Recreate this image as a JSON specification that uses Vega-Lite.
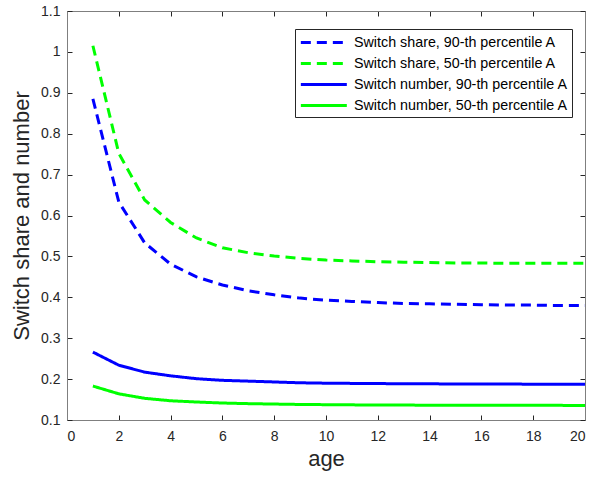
{
  "$schema": "https://vega.github.io/schema/vega-lite/v6.json",
  "autosize": "none",
  "width": 518,
  "height": 409,
  "padding": {"left": 67, "top": 11, "right": 9, "bottom": 58},
  "background": "white",
  "config": {
    "view": {"stroke": "#7f7f7f", "strokeWidth": 1},
    "font": "Liberation Sans",
    "axis": {
      "grid": false,
      "domainColor": "#7f7f7f",
      "tickColor": "#262626",
      "tickWidth": 1,
      "tickSize": -5,
      "labelFont": "Liberation Sans",
      "labelFontSize": 14,
      "labelColor": "#262626",
      "titleFont": "Liberation Sans",
      "titleFontSize": 22,
      "titleFontWeight": "normal",
      "titleColor": "#262626"
    },
    "legend": {
      "title": null,
      "orient": "none",
      "legendX": 228,
      "legendY": 18,
      "symbolType": "M-1,0L5,0",
      "symbolSize": 235,
      "symbolStrokeWidth": 3,
      "labelFont": "Liberation Sans",
      "labelFontSize": 14.3,
      "labelColor": "#000000",
      "labelOffset": 36,
      "padding": 4,
      "rowPadding": 4,
      "strokeColor": "#262626",
      "fillColor": "white",
      "labelLimit": 400
    }
  },
  "data": {"values": [
    {"age": 1, "value": 0.885, "series": "Switch share, 90-th percentile A"},
    {"age": 2, "value": 0.633, "series": "Switch share, 90-th percentile A"},
    {"age": 3, "value": 0.533, "series": "Switch share, 90-th percentile A"},
    {"age": 4, "value": 0.481, "series": "Switch share, 90-th percentile A"},
    {"age": 5, "value": 0.450, "series": "Switch share, 90-th percentile A"},
    {"age": 6, "value": 0.430, "series": "Switch share, 90-th percentile A"},
    {"age": 7, "value": 0.416, "series": "Switch share, 90-th percentile A"},
    {"age": 8, "value": 0.406, "series": "Switch share, 90-th percentile A"},
    {"age": 9, "value": 0.398, "series": "Switch share, 90-th percentile A"},
    {"age": 10, "value": 0.393, "series": "Switch share, 90-th percentile A"},
    {"age": 11, "value": 0.390, "series": "Switch share, 90-th percentile A"},
    {"age": 12, "value": 0.387, "series": "Switch share, 90-th percentile A"},
    {"age": 13, "value": 0.385, "series": "Switch share, 90-th percentile A"},
    {"age": 14, "value": 0.384, "series": "Switch share, 90-th percentile A"},
    {"age": 15, "value": 0.383, "series": "Switch share, 90-th percentile A"},
    {"age": 16, "value": 0.382, "series": "Switch share, 90-th percentile A"},
    {"age": 17, "value": 0.381, "series": "Switch share, 90-th percentile A"},
    {"age": 18, "value": 0.381, "series": "Switch share, 90-th percentile A"},
    {"age": 19, "value": 0.380, "series": "Switch share, 90-th percentile A"},
    {"age": 20, "value": 0.380, "series": "Switch share, 90-th percentile A"},
    {"age": 1, "value": 1.015, "series": "Switch share, 50-th percentile A"},
    {"age": 2, "value": 0.752, "series": "Switch share, 50-th percentile A"},
    {"age": 3, "value": 0.638, "series": "Switch share, 50-th percentile A"},
    {"age": 4, "value": 0.583, "series": "Switch share, 50-th percentile A"},
    {"age": 5, "value": 0.545, "series": "Switch share, 50-th percentile A"},
    {"age": 6, "value": 0.521, "series": "Switch share, 50-th percentile A"},
    {"age": 7, "value": 0.509, "series": "Switch share, 50-th percentile A"},
    {"age": 8, "value": 0.501, "series": "Switch share, 50-th percentile A"},
    {"age": 9, "value": 0.495, "series": "Switch share, 50-th percentile A"},
    {"age": 10, "value": 0.491, "series": "Switch share, 50-th percentile A"},
    {"age": 11, "value": 0.489, "series": "Switch share, 50-th percentile A"},
    {"age": 12, "value": 0.487, "series": "Switch share, 50-th percentile A"},
    {"age": 13, "value": 0.486, "series": "Switch share, 50-th percentile A"},
    {"age": 14, "value": 0.485, "series": "Switch share, 50-th percentile A"},
    {"age": 15, "value": 0.484, "series": "Switch share, 50-th percentile A"},
    {"age": 16, "value": 0.484, "series": "Switch share, 50-th percentile A"},
    {"age": 17, "value": 0.483, "series": "Switch share, 50-th percentile A"},
    {"age": 18, "value": 0.483, "series": "Switch share, 50-th percentile A"},
    {"age": 19, "value": 0.483, "series": "Switch share, 50-th percentile A"},
    {"age": 20, "value": 0.483, "series": "Switch share, 50-th percentile A"},
    {"age": 1, "value": 0.266, "series": "Switch number, 90-th percentile A"},
    {"age": 2, "value": 0.234, "series": "Switch number, 90-th percentile A"},
    {"age": 3, "value": 0.217, "series": "Switch number, 90-th percentile A"},
    {"age": 4, "value": 0.208, "series": "Switch number, 90-th percentile A"},
    {"age": 5, "value": 0.201, "series": "Switch number, 90-th percentile A"},
    {"age": 6, "value": 0.197, "series": "Switch number, 90-th percentile A"},
    {"age": 7, "value": 0.195, "series": "Switch number, 90-th percentile A"},
    {"age": 8, "value": 0.193, "series": "Switch number, 90-th percentile A"},
    {"age": 9, "value": 0.191, "series": "Switch number, 90-th percentile A"},
    {"age": 10, "value": 0.190, "series": "Switch number, 90-th percentile A"},
    {"age": 11, "value": 0.1895, "series": "Switch number, 90-th percentile A"},
    {"age": 12, "value": 0.189, "series": "Switch number, 90-th percentile A"},
    {"age": 13, "value": 0.1888, "series": "Switch number, 90-th percentile A"},
    {"age": 14, "value": 0.1885, "series": "Switch number, 90-th percentile A"},
    {"age": 15, "value": 0.188, "series": "Switch number, 90-th percentile A"},
    {"age": 16, "value": 0.188, "series": "Switch number, 90-th percentile A"},
    {"age": 17, "value": 0.188, "series": "Switch number, 90-th percentile A"},
    {"age": 18, "value": 0.1875, "series": "Switch number, 90-th percentile A"},
    {"age": 19, "value": 0.1875, "series": "Switch number, 90-th percentile A"},
    {"age": 20, "value": 0.1875, "series": "Switch number, 90-th percentile A"},
    {"age": 1, "value": 0.183, "series": "Switch number, 50-th percentile A"},
    {"age": 2, "value": 0.164, "series": "Switch number, 50-th percentile A"},
    {"age": 3, "value": 0.153, "series": "Switch number, 50-th percentile A"},
    {"age": 4, "value": 0.147, "series": "Switch number, 50-th percentile A"},
    {"age": 5, "value": 0.144, "series": "Switch number, 50-th percentile A"},
    {"age": 6, "value": 0.1415, "series": "Switch number, 50-th percentile A"},
    {"age": 7, "value": 0.140, "series": "Switch number, 50-th percentile A"},
    {"age": 8, "value": 0.139, "series": "Switch number, 50-th percentile A"},
    {"age": 9, "value": 0.138, "series": "Switch number, 50-th percentile A"},
    {"age": 10, "value": 0.1375, "series": "Switch number, 50-th percentile A"},
    {"age": 11, "value": 0.137, "series": "Switch number, 50-th percentile A"},
    {"age": 12, "value": 0.1368, "series": "Switch number, 50-th percentile A"},
    {"age": 13, "value": 0.1365, "series": "Switch number, 50-th percentile A"},
    {"age": 14, "value": 0.1362, "series": "Switch number, 50-th percentile A"},
    {"age": 15, "value": 0.136, "series": "Switch number, 50-th percentile A"},
    {"age": 16, "value": 0.136, "series": "Switch number, 50-th percentile A"},
    {"age": 17, "value": 0.136, "series": "Switch number, 50-th percentile A"},
    {"age": 18, "value": 0.1358, "series": "Switch number, 50-th percentile A"},
    {"age": 19, "value": 0.1358, "series": "Switch number, 50-th percentile A"},
    {"age": 20, "value": 0.1355, "series": "Switch number, 50-th percentile A"}
  ]},
  "layer": [
    {
      "mark": {"type": "line", "strokeWidth": 3},
      "encoding": {
        "x": {"field": "age", "type": "quantitative",
              "scale": {"domain": [0, 20], "nice": false, "zero": false},
              "axis": {"title": "age", "values": [0,2,4,6,8,10,12,14,16,18,20], "labelPadding": 14, "titlePadding": 5}},
        "y": {"field": "value", "type": "quantitative",
              "scale": {"domain": [0.1, 1.1], "nice": false, "zero": false},
              "axis": {"title": "Switch share and number", "values": [0.1,0.2,0.3,0.4,0.5,0.6,0.7,0.8,0.9,1,1.1], "labelExpr": "datum.value == 1 ? '1' : format(datum.value, '.1f')", "labelPadding": 12, "titlePadding": 7}},
        "color": {"field": "series", "type": "nominal",
                  "scale": {"domain": ["Switch share, 90-th percentile A", "Switch share, 50-th percentile A", "Switch number, 90-th percentile A", "Switch number, 50-th percentile A"],
                            "range": ["#0000ff", "#00ff00", "#0000ff", "#00ff00"]}},
        "strokeDash": {"field": "series", "type": "nominal",
                  "scale": {"domain": ["Switch share, 90-th percentile A", "Switch share, 50-th percentile A", "Switch number, 90-th percentile A", "Switch number, 50-th percentile A"],
                            "range": [[10, 6], [10, 6], [1, 0], [1, 0]]}}
      }
    },
    {
      "mark": {"type": "line", "opacity": 0},
      "encoding": {
        "x": {"field": "age", "type": "quantitative",
              "axis": {"orient": "top", "title": null, "labels": false, "values": [0,2,4,6,8,10,12,14,16,18,20]}},
        "y": {"field": "value", "type": "quantitative",
              "axis": {"orient": "right", "title": null, "labels": false, "values": [0.1,0.2,0.3,0.4,0.5,0.6,0.7,0.8,0.9,1,1.1]}},
        "detail": {"field": "series"}
      }
    }
  ],
  "resolve": {"axis": {"x": "independent", "y": "independent"}}
}
